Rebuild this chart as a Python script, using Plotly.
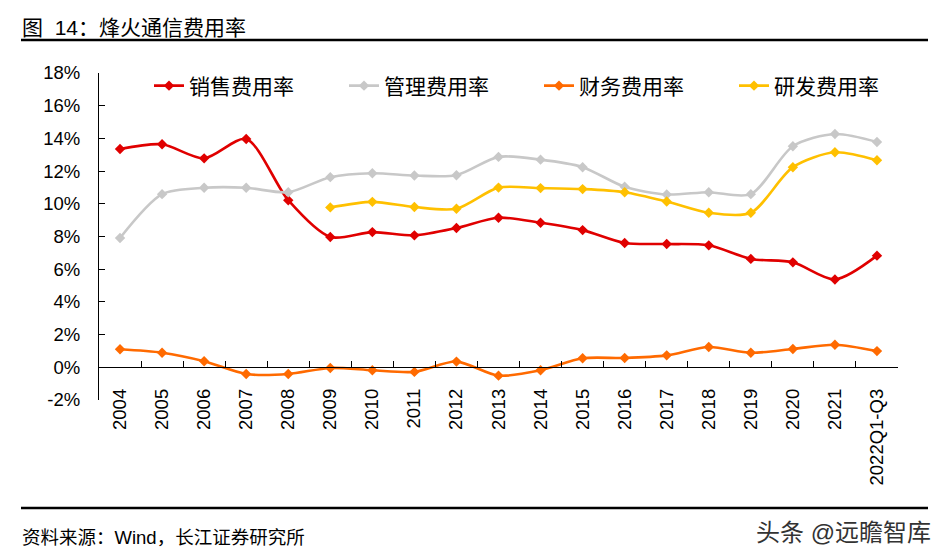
import plotly.graph_objects as go

categories = ["2004", "2005", "2006", "2007", "2008", "2009", "2010", "2011", "2012",
              "2013", "2014", "2015", "2016", "2017", "2018", "2019", "2020", "2021", "2022Q1-Q3"]
sales_rate = [13.35, 13.64, 12.78, 13.96, 10.22, 7.97, 8.27, 8.07, 8.52,
              9.15, 8.84, 8.39, 7.60, 7.54, 7.46, 6.63, 6.42, 5.37, 6.83]
admin_rate = [7.91, 10.59, 10.98, 10.98, 10.71, 11.63, 11.87, 11.73, 11.75,
              12.87, 12.70, 12.24, 11.04, 10.57, 10.71, 10.59, 13.52, 14.27, 13.78]
finance_rate = [1.10, 0.89, 0.37, -0.41, -0.41, -0.04, -0.18, -0.28, 0.35,
                -0.51, -0.18, 0.55, 0.57, 0.73, 1.24, 0.89, 1.12, 1.38, 0.99]
rd_rate = [None, None, None, None, None, 9.78, 10.12, 9.80, 9.70,
           10.99, 10.96, 10.90, 10.71, 10.14, 9.45, 9.45, 12.24, 13.15, 12.66]

y_tick_values = [-2, 0, 2, 4, 6, 8, 10, 12, 14, 16, 18]
y_tick_labels = ["-2%", "0%", "2%", "4%", "6%", "8%", "10%", "12%", "14%", "16%", "18%"]

series_names = ["销售费用率", "管理费用率", "财务费用率", "研发费用率"]
series_values = [sales_rate, admin_rate, finance_rate, rd_rate]
series_colors = ["#E00000", "#C8C8C8", "#FF6A00", "#FFC000"]

title_text = "图  14：烽火通信费用率"
source_text = "资料来源：Wind，长江证券研究所"
watermark_text = "头条 @远瞻智库"

FONT = "Arial, 'Liberation Sans', 'Noto Sans CJK SC', sans-serif"

# page body has an 8px margin; size the figure to fit the window
OFF = 8
W, H = 946 - OFF, 560 - OFF
PLOT_L, PLOT_R, PLOT_T, PLOT_B = 99, 898, 73, 400  # window pixels
L, R, T, B = PLOT_L - OFF, W - (PLOT_R - OFF), PLOT_T - OFF, H - (PLOT_B - OFF)
PW, PH = W - L - R, H - T - B


def px_x(p):
    return (p - PLOT_L) / PW


def px_y(p):
    return (PLOT_B - p) / PH


fig = go.Figure()
for name, vals, col in zip(series_names, series_values, series_colors):
    fig.add_trace(go.Scatter(
        x=categories, y=vals, name=name, mode="lines+markers",
        line=dict(color=col, width=2.6, shape="spline", smoothing=0.8),
        marker=dict(symbol="diamond", size=8, color=col),
        connectgaps=False,
    ))

fig.update_layout(
    width=W, height=H,
    margin=dict(l=L, r=R, t=T, b=B, autoexpand=False),
    paper_bgcolor="white", plot_bgcolor="white",
    font=dict(family=FONT, color="black", size=18),
    showlegend=True,
    legend=dict(
        orientation="h", x=px_x(149), y=px_y(86), xanchor="left", yanchor="middle",
        font=dict(size=21, family=FONT, color="black"),
        entrywidth=150, entrywidthmode="pixels",
        bgcolor="rgba(0,0,0,0)", traceorder="normal",
    ),
    xaxis=dict(
        type="category", anchor="free", position=0.1,
        showline=True, linecolor="black", linewidth=1.2,
        ticks="inside", ticklen=6, tickcolor="black", tickson="boundaries",
        tickangle=-90, tickfont=dict(size=18.5, family=FONT),
        ticklabelstandoff=13,
        showgrid=False, zeroline=False,
        range=[-0.5, len(categories) - 0.5],
    ),
    yaxis=dict(
        range=[-2, 18], tickmode="array",
        tickvals=y_tick_values, ticktext=y_tick_labels,
        showline=True, linecolor="black", linewidth=1.2,
        ticks="inside", ticklen=6, tickcolor="black",
        tickfont=dict(size=18.5, family=FONT),
        ticklabelstandoff=14,
        showgrid=False, zeroline=False,
    ),
)

fig.add_annotation(
    text=title_text, xref="paper", yref="paper", x=px_x(20), y=px_y(28),
    xanchor="left", yanchor="middle", showarrow=False,
    font=dict(size=21, family=FONT, color="black"),
)
fig.add_annotation(
    text=source_text, xref="paper", yref="paper", x=px_x(20), y=px_y(537),
    xanchor="left", yanchor="middle", showarrow=False,
    font=dict(size=18.5, family=FONT, color="black"),
)
fig.add_annotation(
    text=watermark_text, xref="paper", yref="paper", x=px_x(933), y=px_y(532),
    xanchor="right", yanchor="middle", showarrow=False,
    font=dict(size=24, family=FONT, color="#333333"),
)

for ypix in (40, 508):
    fig.add_shape(
        type="line", xref="paper", yref="paper",
        x0=px_x(21), x1=px_x(928), y0=px_y(ypix), y1=px_y(ypix),
        line=dict(color="black", width=2.5),
    )

fig.write_html("out.html")
